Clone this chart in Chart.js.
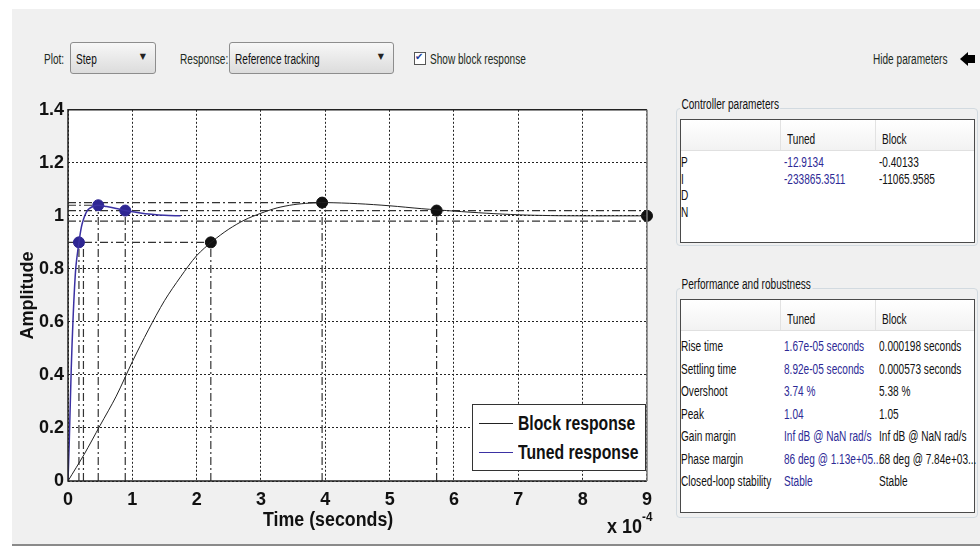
<!DOCTYPE html>
<html>
<head>
<meta charset="utf-8">
<script src="https://cdn.jsdelivr.net/npm/chart.js@4.4.1/dist/chart.umd.min.js"></script>
<style>
  body { margin: 0; width: 980px; height: 547px; overflow: hidden; background: #fff; position: relative;
         font-family: 'Liberation Sans', Arial, sans-serif; color: #111; }
  .abs { position: absolute; }
  .nx { transform: scaleX(0.72); transform-origin: 0 50%; white-space: nowrap; }
  #panel { left: 12px; top: 9px; width: 968px; height: 535px; background: #f0f0f0; border-bottom: 2px solid #8a8a8a; }
  .lbl { font-size: 14px; color: #1c2a22; line-height: 18px; }
  .dd { height: 32px; border: 1px solid #8d8d8d; border-radius: 3px; box-sizing: border-box;
        background: linear-gradient(#f7f7f7, #dcdcdc); }
  .dd .t { position: absolute; left: 5px; top: 7px; font-size: 14px; line-height: 18px; color: #111; }
  .dd .arr { position: absolute; right: 9px; top: 9px; font-size: 8px; font-family: 'DejaVu Sans'; color: #222; }
  .grp { border: 1px solid #d2dae0; border-radius: 4px; box-sizing: border-box; }
  .gtitle { font-size: 14px; background: #f0f0f0; padding: 0 2px; line-height: 16px; }
  .tbl { background: #fff; border: 1px solid #4a4a4a; box-sizing: border-box; }
  .hdr { background: linear-gradient(#ffffff, #f2f2f2); border-bottom: 1px solid #e0e0e0; box-sizing: border-box; }
  .cell { font-size: 14px; line-height: 16px; }
  .blue { color: #2d2a96; }
  .ax { font-weight: bold; font-size: 20px; white-space: nowrap; transform-origin: 0 50%; }
  #legend { left: 472px; top: 404px; width: 174px; height: 67px; background: #fff; border: 1px solid #333; box-sizing: border-box; }
  .lgrow { position: absolute; left: 6px; height: 28px; }
  .lgline { position: absolute; left: 0; top: 13px; width: 34px; height: 1px; }
  .lgtext { position: absolute; left: 39px; top: 0; font-weight: bold; font-size: 21px; line-height: 26px; transform: scaleX(0.75); }
</style>
</head>
<body>
<div id="panel" class="abs"></div>

<div class="abs lbl nx" style="left:44px;top:50px;">Plot:</div>
<div class="abs dd" style="left:70px;top:42px;width:86px;"><span class="t nx">Step</span><span class="arr">&#9660;</span></div>
<div class="abs lbl nx" style="left:180px;top:50px;">Response:</div>
<div class="abs dd" style="left:229px;top:42px;width:165px;"><span class="t nx">Reference tracking</span><span class="arr">&#9660;</span></div>
<div class="abs" style="left:414px;top:52px;width:12px;height:13px;border:1px solid #555;background:#fff;box-sizing:border-box;"></div>
<div class="abs" style="left:415px;top:51px;font-size:10px;font-family:'DejaVu Sans';color:#1d3c9a;">&#10004;</div>
<div class="abs lbl nx" style="left:430px;top:50px;">Show block response</div>

<div class="abs lbl nx" style="left:873px;top:50px;">Hide parameters</div>
<div class="abs" style="left:960px;top:52px;width:0;height:0;border-top:7px solid transparent;border-bottom:7px solid transparent;border-right:8px solid #000;"></div>
<div class="abs" style="left:967px;top:55px;width:8px;height:8px;background:#000;"></div>

<div class="abs" style="left:12px;top:95px;width:648px;height:445px;"><canvas id="myChart"></canvas></div>

<div class="abs ax" style="left:263px;top:508px;transform:scaleX(0.89);">Time (seconds)</div>
<div class="abs ax" style="left:607px;top:515px;transform:scaleX(0.9);">x 10<span style="font-size:13px;position:relative;top:-12px;">-4</span></div>

<div id="legend" class="abs"></div>

<div class="abs grp" style="left:676px;top:108px;width:302px;height:138px;"></div>
<div class="abs gtitle nx" style="left:680px;top:96px;">Controller parameters</div>
<div id="ctrlTable" class="abs tbl" style="left:680px;top:119px;width:295px;height:124px;"></div>

<div class="abs grp" style="left:676px;top:288px;width:302px;height:230px;"></div>
<div class="abs gtitle nx" style="left:680px;top:276px;">Performance and robustness</div>
<div id="perfTable" class="abs tbl" style="left:680px;top:299px;width:295px;height:214px;"></div>

<script>
// step responses (time in units of 1e-4 s)
const blockTime = [0, 0.25, 0.5, 0.75, 1.0, 1.25, 1.5, 1.75, 2.0, 2.25, 2.5, 2.75, 3.0, 3.25, 3.5, 3.75, 4.0, 4.5, 5.0, 5.5, 6.0, 6.5, 7.0, 7.5, 8.0, 8.5, 9.0];
const blockAmp  = [0, 0.1, 0.21, 0.32, 0.45, 0.57, 0.68, 0.77, 0.85, 0.905, 0.95, 0.985, 1.01, 1.03, 1.042, 1.048, 1.05, 1.046, 1.038, 1.027, 1.018, 1.01, 1.004, 1.001, 1.0, 1.0, 1.0];
const tunedTime = [0, 0.02, 0.05, 0.08, 0.12, 0.17, 0.22, 0.3, 0.4, 0.47, 0.6, 0.75, 0.89, 1.1, 1.3, 1.5, 1.75];
const tunedAmp  = [0, 0.15, 0.42, 0.62, 0.8, 0.9, 0.97, 1.02, 1.037, 1.04, 1.035, 1.028, 1.02, 1.012, 1.006, 1.002, 1.0];

// characteristic points: rise, peak, settling (, final)
const blockMarkTime = [2.22, 3.95, 5.73, 9.0];
const blockMarkAmp  = [0.9, 1.05, 1.02, 1.0];
const tunedMarkTime = [0.17, 0.47, 0.89];
const tunedMarkAmp  = [0.9, 1.04, 1.02];
const blockRiseStart = 0.24;
const settleBand = [0.98, 1.02];

const xTicks = [0, 1, 2, 3, 4, 5, 6, 7, 8, 9];

const tableHead = ['', 'Tuned', 'Block'];
const paramRows = [
  ['P', '-12.9134', '-0.40133'],
  ['I', '-233865.3511', '-11065.9585'],
  ['D', '', ''],
  ['N', '', '']
];
const perfRows = [
  ['Rise time', '1.67e-05 seconds', '0.000198 seconds'],
  ['Settling time', '8.92e-05 seconds', '0.000573 seconds'],
  ['Overshoot', '3.74 %', '5.38 %'],
  ['Peak', '1.04', '1.05'],
  ['Gain margin', 'Inf dB @ NaN rad/s', 'Inf dB @ NaN rad/s'],
  ['Phase margin', '86 deg @ 1.13e+05...', '68 deg @ 7.84e+03...'],
  ['Closed-loop stability', 'Stable', 'Stable']
];

function fillTable(el, rows, firstY, step) {
  const hdr = document.createElement('div');
  hdr.className = 'abs hdr';
  hdr.style.cssText = 'left:0;top:0;width:293px;height:31px;';
  el.appendChild(hdr);
  [99, 194].forEach(function (x) {
    const d = document.createElement('div');
    d.className = 'abs';
    d.style.cssText = 'left:' + x + 'px;top:0;width:1px;height:30px;background:#e2e2e2;';
    el.appendChild(d);
  });
  const cols = [0, 102, 197];
  tableHead.forEach(function (t, i) {
    const c = document.createElement('div');
    c.className = 'abs cell nx';
    c.style.cssText = 'left:' + (cols[i] + 4) + 'px;top:11px;';
    c.textContent = t;
    el.appendChild(c);
  });
  rows.forEach(function (r, j) {
    r.forEach(function (t, i) {
      const c = document.createElement('div');
      c.className = 'abs cell nx' + (i === 1 ? ' blue' : '');
      c.style.cssText = 'left:' + (i === 0 ? 0 : cols[i] + 1) + 'px;top:' + (firstY + j * step - 9) + 'px;';
      c.textContent = t;
      el.appendChild(c);
    });
  });
}
fillTable(document.getElementById('ctrlTable'), paramRows, 43, 16.5);
fillTable(document.getElementById('perfTable'), perfRows, 47, 22.5);

const pts = (xs, ys) => xs.map((x, i) => ({ x: x, y: ys[i] }));

const guideStyle = { borderColor: '#333', borderWidth: 1.2, borderDash: [8, 3, 2, 3], pointRadius: 0, fill: false, showLine: true };
const guides = [];
function vLine(x, y) { guides.push(Object.assign({ data: [{ x: x, y: 0 }, { x: x, y: y }] }, guideStyle)); }
function hLine(x, y) { guides.push(Object.assign({ data: [{ x: 0, y: y }, { x: x, y: y }] }, guideStyle)); }
for (let i = 0; i < 3; i++) {
  vLine(blockMarkTime[i], blockMarkAmp[i]);
  vLine(tunedMarkTime[i], tunedMarkAmp[i]);
}
vLine(blockRiseStart, blockMarkAmp[0]);
hLine(blockMarkTime[0], blockMarkAmp[0]);
hLine(blockMarkTime[1], blockMarkAmp[1]);
hLine(tunedMarkTime[1], tunedMarkAmp[1]);
settleBand.forEach(function (y) { hLine(9, y); });

const frame = {
  id: 'frame',
  beforeDraw(c) {
    const a = c.chartArea, ctx = c.ctx;
    ctx.save();
    ctx.fillStyle = '#fff';
    ctx.fillRect(a.left, a.top, a.right - a.left, a.bottom - a.top);
    ctx.restore();
  },
  afterDraw(c) {
    const a = c.chartArea, ctx = c.ctx;
    ctx.save();
    ctx.lineWidth = 1.5;
    ctx.strokeStyle = '#222';
    ctx.beginPath();
    ctx.moveTo(a.right, a.top); ctx.lineTo(a.left, a.top); ctx.lineTo(a.left, a.bottom); ctx.lineTo(a.right, a.bottom);
    ctx.stroke();
    ctx.strokeStyle = '#777';
    ctx.beginPath();
    ctx.moveTo(a.right, a.top); ctx.lineTo(a.right, a.bottom);
    ctx.stroke();
    ctx.restore();
  }
};

const tickFont = { family: "'Liberation Sans',Arial", size: 18, weight: 'bold' };

const data = {
  datasets: [
    { label: 'Block response', data: pts(blockTime, blockAmp), borderColor: '#222', backgroundColor: '#222', borderWidth: 1, pointRadius: 0, tension: 0.3 },
    { label: 'Tuned response', data: pts(tunedTime, tunedAmp), borderColor: '#3b31a3', backgroundColor: '#3b31a3', borderWidth: 1.5, pointRadius: 0, tension: 0.3 },
    { label: 'block marks', data: pts(blockMarkTime, blockMarkAmp), showLine: false, pointRadius: 5.5, backgroundColor: '#111', borderColor: '#111', clip: false },
    { label: 'tuned marks', data: pts(tunedMarkTime, tunedMarkAmp), showLine: false, pointRadius: 5.5, backgroundColor: '#2e2692', borderColor: '#2e2692', clip: false }
  ].concat(guides)
};

const config = {
  type: 'line',
  data: data,
  options: {
    responsive: true,
    maintainAspectRatio: false,
    animation: false,
    layout: { padding: { top: 14, right: 10 } },
    plugins: { legend: { display: false }, tooltip: { enabled: false } },
    scales: {
      x: {
        type: 'linear', min: 0, max: 9,
        afterBuildTicks: (s) => { s.ticks = xTicks.map(v => ({ value: v })); },
        afterFit: (s) => { s.height = 59; },
        grid: { color: '#222', lineWidth: 1, drawTicks: false },
        border: { display: false, dash: [2, 2] },
        ticks: { font: tickFont, color: '#111', padding: 8 }
      },
      y: {
        min: 0, max: 1.4,
        ticks: { stepSize: 0.2, font: tickFont, color: '#111', padding: 4,
                 callback: (v) => String(Math.round(v * 10) / 10) },
        afterFit: (s) => { s.width = 56; },
        grid: { color: '#222', lineWidth: 1, drawTicks: false },
        border: { display: false, dash: [2, 2] },
        title: { display: true, text: 'Amplitude', font: tickFont, color: '#111', padding: { top: 5, bottom: 0 } }
      }
    }
  },
  plugins: [frame]
};

const myChart = new Chart(document.getElementById('myChart'), config);

// legend built from the two response datasets
const legend = document.getElementById('legend');
[0, 1].forEach(function (i, k) {
  const ds = data.datasets[i];
  const row = document.createElement('div');
  row.className = 'lgrow';
  row.style.top = (5 + k * 29) + 'px';
  row.innerHTML = '<div class="lgline" style="background:' + ds.borderColor + '"></div><div class="lgtext nx">' + ds.label + '</div>';
  legend.appendChild(row);
});
</script>
</body>
</html>
